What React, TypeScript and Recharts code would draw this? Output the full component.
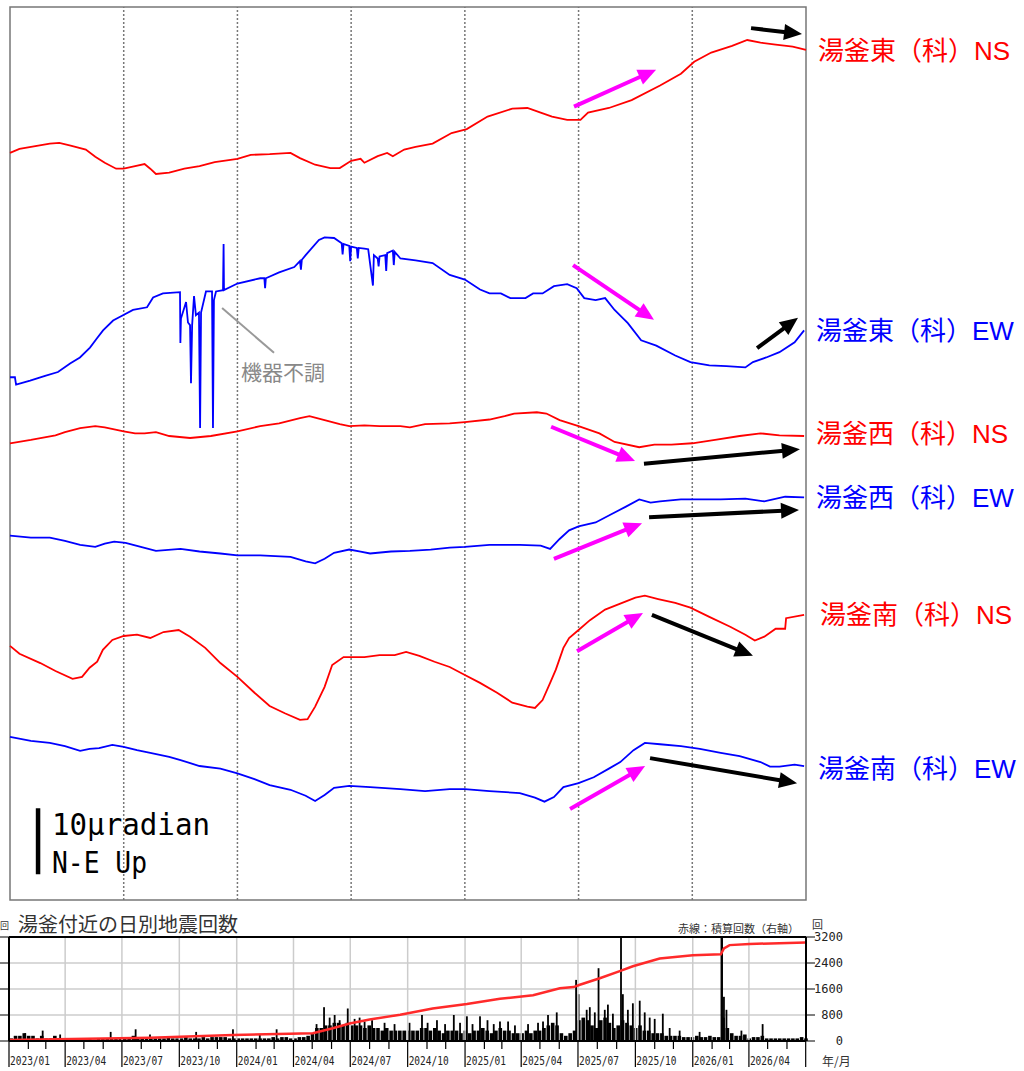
import React from 'react';
import {
  LineChart, Line, XAxis, YAxis, ReferenceLine, ReferenceArea,
  ComposedChart, Bar, CartesianGrid,
} from 'recharts';

// Tilt records: [months since 2023/01, tilt change in µradian since start]
const eastNS = [
  [0, 0], [0.5, 0.6], [2.1, 1.4], [2.6, 1.5], [3.2, 1.1], [4.0, 0.5], [4.5, -0.6], [5.0, -1.5],
  [5.6, -2.4], [6.0, -2.4], [6.6, -2.0], [7.1, -1.7], [7.4, -2.4], [7.7, -3.2], [8.4, -3.0],
  [9.2, -2.4], [10.0, -2.0], [10.8, -1.4], [12.0, -0.9], [12.7, -0.3], [13.7, -0.2], [14.8, 0],
  [15.3, -0.8], [16.1, -1.8], [16.9, -2.3], [17.4, -2.3], [18.0, -1.2], [18.5, -0.9], [18.7, -1.5],
  [19.4, -0.5], [19.9, 0], [20.2, -0.5], [20.8, 0.5], [21.4, 0.9], [22.3, 1.4], [23.3, 3.0],
  [24.1, 3.6], [25.2, 5.5], [26.5, 6.7], [27.3, 6.8], [28.0, 6.1], [28.6, 5.5], [29.4, 5.0],
  [30.1, 5.0], [30.5, 6.1], [31.6, 6.8], [32.8, 8.0], [34.3, 10.2], [35.4, 12.0], [36.1, 13.8],
  [37.0, 15.2], [38.1, 16.2], [38.9, 17.1], [39.6, 16.7], [40.4, 16.4], [41.3, 16.1], [42.0, 15.6],
];

const eastEW = [
  [0, 0], [0.26, 0], [0.32, -1.1], [1.06, -0.5], [1.85, 0.2], [2.53, 0.8], [3.17, 2.1], [3.69, 3.0],
  [4.22, 4.5], [4.59, 5.9], [4.91, 7.1], [5.44, 8.6], [5.96, 9.4], [6.49, 10.2], [7.23, 10.6],
  [7.55, 12.1], [8.07, 12.7], [8.97, 12.9], [8.99, 5.2], [9.02, 8.9], [9.29, 11.4], [9.39, 8.3],
  [9.5, 7.9], [9.55, -0.9], [9.61, 7.9], [9.71, 12.3], [9.81, 9.4], [9.97, 9.8], [10.03, -7.7],
  [10.08, 9.8], [10.34, 13.0], [10.66, 13.0], [10.71, -7.7], [10.76, 11.7], [10.87, 13.0],
  [11.24, 13.2], [11.27, 20.2], [11.29, 13.2], [12.0, 14.2], [13.2, 15.0], [13.42, 15.0],
  [13.46, 13.5], [13.5, 15.0], [14.2, 15.9], [15.0, 16.7], [15.3, 17.6], [15.35, 16.3], [15.4, 17.8],
  [15.6, 18.5], [16.3, 20.8], [16.6, 21.2], [17.1, 21.1], [17.5, 20.3], [17.55, 18.6], [17.6, 20.2],
  [17.9, 19.9], [17.95, 17.6], [18.0, 19.8], [18.3, 19.6], [18.35, 18.0], [18.4, 19.6], [18.7, 19.5],
  [18.9, 19.4], [19.15, 13.9], [19.2, 18.5], [19.4, 18.0], [19.45, 16.8], [19.5, 18.3], [19.8, 18.5],
  [19.85, 16.1], [19.9, 18.8], [20.2, 19.2], [20.25, 17.0], [20.3, 19.0], [20.6, 18.0], [21.4, 17.7],
  [22.3, 17.3], [23.2, 15.5], [24.0, 14.8], [24.8, 13.3], [25.3, 12.7], [25.9, 12.7], [26.4, 12.0],
  [27.2, 12.0], [27.6, 12.7], [28.1, 12.7], [28.7, 13.8], [29.4, 14.1], [29.9, 13.5], [30.3, 12.0],
  [30.9, 11.7], [31.4, 12.0], [31.9, 10.2], [32.6, 8.2], [33.3, 5.6], [34.1, 4.8], [35.1, 3.3],
  [35.9, 2.3], [36.9, 1.8], [37.8, 1.7], [38.8, 1.5], [39.2, 2.3], [39.9, 3.0], [40.6, 3.8],
  [41.4, 5.3], [41.9, 7.1],
];

const westNS = [
  [0, 0], [1.1, 0.5], [2.4, 1.2], [2.9, 1.7], [3.7, 2.3], [4.5, 2.6], [5.0, 2.4], [6.0, 1.8],
  [6.6, 1.5], [7.1, 1.5], [7.7, 1.7], [8.4, 1.1], [9.5, 0.8], [10.6, 1.1], [12.0, 1.8], [13.2, 2.6],
  [14.2, 3.0], [15.3, 3.8], [15.8, 4.1], [16.6, 3.5], [17.4, 2.9], [17.9, 2.6], [18.7, 2.7],
  [19.5, 2.6], [20.6, 2.6], [21.1, 2.4], [21.9, 2.9], [23.2, 3.0], [24.0, 3.2], [25.3, 3.6],
  [26.1, 4.1], [26.6, 4.5], [27.8, 4.7], [28.3, 4.5], [29.0, 3.5], [30.0, 2.6], [31.1, 1.5],
  [31.9, 0.2], [33.2, -0.6], [34.0, -0.2], [34.9, -0.2], [36.0, 0], [37.2, 0.5], [38.5, 1.1],
  [39.6, 1.5], [40.6, 1.2], [41.9, 1.1],
];

const westEW = [
  [0, 0], [1.1, -0.3], [2.1, -0.3], [2.9, -0.8], [3.7, -1.4], [4.5, -1.7], [5.0, -1.2], [5.5, -0.9],
  [6.1, -1.1], [6.9, -1.7], [7.7, -2.3], [9.0, -2.0], [10.0, -2.4], [11.1, -2.7], [12.0, -3.0],
  [13.2, -3.0], [14.8, -3.2], [15.6, -3.9], [16.1, -4.2], [16.6, -3.5], [17.1, -2.6], [17.9, -2.1],
  [18.5, -2.4], [19.0, -2.7], [20.1, -2.4], [21.1, -2.3], [22.2, -2.1], [23.2, -1.8], [24.0, -1.7],
  [25.3, -1.4], [26.4, -1.4], [26.9, -1.4], [28.0, -1.5], [28.5, -2.0], [29.0, -0.5], [29.5, 0.8],
  [30.0, 1.4], [30.9, 2.0], [31.7, 3.2], [32.5, 4.4], [33.2, 5.5], [33.8, 5.0], [34.3, 5.2],
  [35.4, 5.5], [36.4, 5.5], [37.5, 5.5], [38.8, 5.6], [39.8, 5.2], [40.9, 5.9], [41.9, 5.8],
];

const southNS = [
  [0, 0], [0.5, -1.2], [1.6, -2.6], [2.4, -3.8], [3.3, -5.0], [3.8, -4.7], [4.2, -3.3], [4.6, -2.4],
  [4.9, -0.6], [5.4, 0.9], [6.0, 1.5], [6.7, 1.7], [7.4, 1.2], [8.1, 2.1], [8.9, 2.4], [9.5, 1.4],
  [10.3, -0.3], [11.1, -2.6], [12.0, -4.7], [12.9, -7.1], [13.7, -9.1], [14.5, -10.2], [15.3, -11.2],
  [15.7, -11.1], [16.1, -9.2], [16.6, -6.2], [17.0, -2.9], [17.6, -1.7], [18.0, -1.7], [18.7, -1.7],
  [19.5, -1.4], [20.3, -1.4], [20.9, -0.9], [21.6, -1.5], [22.4, -2.4], [23.2, -3.2], [24.0, -4.4],
  [24.8, -5.6], [25.7, -7.1], [26.5, -8.6], [27.3, -9.2], [27.7, -9.4], [28.1, -8.2], [28.5, -5.6],
  [28.8, -3.6], [29.2, -0.3], [29.5, 1.2], [30.0, 2.4], [30.6, 3.9], [31.4, 5.5], [32.2, 6.4],
  [33.0, 7.3], [33.5, 7.6], [34.2, 7.1], [35.1, 6.5], [35.9, 5.8], [36.9, 4.4], [38.0, 2.9],
  [38.8, 1.7], [39.3, 0.8], [39.8, 1.4], [40.4, 2.6], [40.9, 2.6], [40.95, 4.2], [41.9, 4.7],
];

const southEW = [
  [0, 0], [1.1, -0.6], [2.1, -0.9], [2.9, -1.4], [3.7, -2.1], [4.2, -1.8], [4.7, -1.7], [5.4, -1.2],
  [6.0, -1.5], [6.7, -2.0], [7.4, -2.4], [8.4, -3.0], [9.0, -3.5], [10.0, -4.4], [11.1, -4.8],
  [12.0, -5.5], [12.9, -6.4], [13.7, -7.3], [14.8, -8.0], [15.6, -8.9], [16.1, -9.7], [16.6, -8.8],
  [17.1, -7.7], [17.9, -7.4], [19.0, -7.6], [20.6, -7.9], [21.9, -8.2], [23.2, -7.9], [24.0, -7.9],
  [25.3, -8.2], [26.9, -8.5], [27.7, -9.2], [28.2, -9.8], [28.7, -9.1], [29.2, -7.6], [30.0, -7.0],
  [30.8, -6.1], [31.6, -4.8], [32.2, -3.8], [32.9, -2.0], [33.5, -0.9], [34.3, -1.1], [35.4, -1.4],
  [36.4, -1.8], [37.5, -2.4], [38.5, -2.9], [39.6, -3.8], [40.1, -4.5], [40.6, -4.5], [41.4, -4.2],
  [41.9, -4.4],
];

// Daily earthquakes near Yugama: typical daily level per week (from 2023/01/01)
const weeklyCounts = [
  1, 2, 2, 3, 2, 2, 1, 2, 1, 1, 2, 1, 1, 1, 1, 1, 1, 1, 1, 0.5, 1, 1, 1, 1, 1, 1,
  1, 1, 2, 1, 1, 1, 1, 1, 1, 1, 1.5, 1, 1, 1, 1.5, 1, 1, 1, 1.5, 1, 1.5, 1.5, 1.5, 1.5,
  1, 1, 1, 1, 1, 1, 1, 1, 1, 1, 1.5, 1, 1.5, 1.5, 1, 1, 1.5, 1.5, 2, 3,
  5, 5, 6, 6, 7, 7, 6, 7, 6, 6, 6, 5, 6, 5, 5, 4, 5, 4, 4, 4,
  4, 4, 4, 4, 5, 5, 4, 5, 4, 3, 4, 4, 4, 3, 4, 3, 4, 4, 5, 4,
  3, 4, 5, 4, 4, 3, 3, 3, 4, 3, 4, 4, 5, 6, 7, 6, 3, 2, 3, 4,
  8, 9, 8, 6, 5, 8, 9, 7, 5, 6, 8, 7, 6, 5, 6, 4, 4, 3, 3, 3,
  2, 2, 2, 2, 1.5, 1.5, 1.5, 2, 1.5, 1.5, 2, 1.5, 1.5, 9, 5, 3, 2, 2, 2.5, 1,
  1.5, 1.5, 2, 1, 1, 1, 1, 1, 1, 1, 1, 1.5, 1,
];

// Single busy days: [day since 2023/01/01, count]
const busyDays = [
  [26, 3], [54, 4], [82, 2.5], [163, 3.5], [203, 4.5], [226, 2.5], [300, 3.5], [359, 4.5],
  [402, 2.5], [429, 4.5], [493, 6.5], [505, 13], [514, 9], [522, 10], [530, 8], [543, 12.5],
  [554, 8.5], [562, 9], [570, 7.5], [582, 8], [602, 7], [618, 6.5], [642, 7], [662, 10],
  [671, 7], [686, 8], [699, 6.5], [713, 10], [723, 7], [734, 9.5], [743, 6.5], [755, 9.5],
  [767, 8], [777, 6.5], [787, 7.5], [800, 7.5], [811, 6], [832, 6.5], [848, 7], [856, 7.5],
  [864, 10], [878, 11], [909, 23.5], [913, 18], [926, 12], [931, 13], [939, 11], [945, 28],
  [955, 12], [960, 14], [968, 10.5], [981, 45], [984, 18], [992, 12], [1000, 14.5], [1011, 15.5],
  [1019, 11], [1027, 9], [1035, 8.5], [1048, 10.5], [1059, 5], [1075, 4], [1107, 3.5],
  [1142, 70], [1143, 60], [1146, 17], [1150, 12], [1174, 4], [1208, 6.5],
];

// Cumulative count (right axis): [day since 2023/01/01, total]
const cumulative = [
  [0, 30], [226, 100], [359, 185], [487, 240], [519, 390], [546, 540], [578, 660], [627, 810],
  [679, 1000], [734, 1140], [787, 1300], [840, 1410], [883, 1620], [905, 1660], [915, 1730],
  [947, 1930], [979, 2150], [1000, 2300], [1043, 2540], [1096, 2640], [1141, 2670], [1146, 2850],
  [1155, 2950], [1187, 2985], [1277, 3030],
];

const RED = '#ff0000';
const BLUE = '#0000ff';
const MAGENTA = '#ff00ff';

const TRACES = [
  { name: '湯釜東（科）', comp: 'NS', data: eastNS, offset: 113.2, color: RED, lx: 818, ly: 60 },
  { name: '湯釜東（科）', comp: 'EW', data: eastEW, offset: 79.2, color: BLUE, lx: 816, ly: 340 },
  { name: '湯釜西（科）', comp: 'NS', data: westNS, offset: 69.2, color: RED, lx: 816, ly: 443 },
  { name: '湯釜西（科）', comp: 'EW', data: westEW, offset: 55.2, color: BLUE, lx: 816, ly: 507 },
  { name: '湯釜南（科）', comp: 'NS', data: southNS, offset: 38.5, color: RED, lx: 820, ly: 624 },
  { name: '湯釜南（科）', comp: 'EW', data: southEW, offset: 24.7, color: BLUE, lx: 818, ly: 778 },
];

// annotation arrows in chart units: [m1, v1, m2, v2, colour]
const ARROWS: [number, number, number, number, string][] = [
  [39.1, 132.1, 41.79, 131.2, '#000'],
  [29.76, 120.2, 34.09, 125.8, MAGENTA],
  [29.71, 96.2, 33.98, 87.9, MAGENTA],
  [39.42, 83.6, 41.58, 88.2, '#000'],
  [28.55, 71.7, 32.98, 66.5, MAGENTA],
  [33.45, 66.1, 41.68, 68.3, '#000'],
  [28.7, 51.7, 33.35, 57.1, MAGENTA],
  [33.72, 58.0, 41.63, 59.1, '#000'],
  [29.92, 37.7, 33.4, 43.5, MAGENTA],
  [33.87, 43.2, 39.2, 37.0, '#000'],
  [29.55, 13.8, 33.51, 20.3, MAGENTA],
  [33.77, 21.5, 41.53, 17.7, '#000'],
];

const Arrow = (p: any) => {
  const { x1, y1, x2, y2, stroke } = p;
  const dx = x2 - x1;
  const dy = y2 - y1;
  const len = Math.sqrt(dx * dx + dy * dy) || 1;
  const ux = dx / len;
  const uy = dy / len;
  const hl = 18;
  const hw = 8;
  const bx = x2 - ux * hl;
  const by = y2 - uy * hl;
  return (
    <g>
      <line x1={x1} y1={y1} x2={x2 - ux * (hl - 2)} y2={y2 - uy * (hl - 2)} stroke={stroke} strokeWidth={4} />
      <polygon
        points={`${x2},${y2} ${bx - uy * hw},${by + ux * hw} ${bx + uy * hw},${by - ux * hw}`}
        fill={stroke}
      />
    </g>
  );
};

const START = Date.UTC(2023, 0, 1);
const monthTicks = Array.from({ length: 43 }, (_, i) => Math.round((Date.UTC(2023, i, 1) - START) / 86400000));
const quarterDays = monthTicks.filter((_, i) => i % 3 === 0 && i > 0 && i < 42);

const barTable = [
  ...weeklyCounts.map((c, w) => ({ day: w * 7 + 3.5, count: c, kind: 'week' })),
  ...busyDays.map(([d, c]) => ({ day: d, count: c, kind: 'day' })),
];
const cumTable = cumulative.map(([day, total]) => ({ day, total }));

// bar widths are fixed here: one week ~4.4px, one day ~0.6px (drawn a bit wider)
const BarShape = (p: any) => {
  const { x, y, width, height, payload } = p;
  if (!height || height <= 0) return <g />;
  const cx = x + width / 2;
  const w = payload && payload.kind === 'day' ? 1.8 : 3.6;
  return <rect x={cx - w / 2} y={y} width={w} height={height} fill="#000" />;
};

const MonthTick = (p: any) => {
  const { x, y, payload } = p;
  const i = monthTicks.indexOf(payload.value);
  const major = i % 3 === 0;
  const label = `${2023 + Math.floor(i / 12)}/${String((i % 12) + 1).padStart(2, '0')}`;
  return (
    <g>
      <line x1={x} y1={y} x2={x} y2={y + (major ? 26 : 8)} stroke="#000" strokeWidth={1.2} />
      {major && i < 42 && (
        <text x={x + 1} y={y + 24} fontSize={12} fontFamily="DejaVu Sans Mono" fill="#222"
          textLength={40} lengthAdjust="spacingAndGlyphs">{label}</text>
      )}
    </g>
  );
};

const CumTick = (p: any) => {
  const { x, y, payload } = p;
  return (
    <text x={x + 26} y={y + 4} textAnchor="end" fontSize={12} fontFamily="DejaVu Sans Mono" fill="#222">
      {payload.value}
    </text>
  );
};

const App: React.FC = () => {
  return (
    <div style={{ position: 'absolute', left: 0, top: 0, width: 1024, height: 1071, background: '#fff', overflow: 'hidden' }}>
      {/* tilt records */}
      <div style={{ position: 'absolute', left: 0, top: 0 }}>
        <LineChart width={1024} height={905} margin={{ top: 7, right: 218, bottom: 5, left: 10 }}>
          <XAxis dataKey="m" type="number" domain={[0, 42]} hide allowDuplicatedCategory={false} />
          <YAxis type="number" domain={[0, 135.3]} hide />
          <ReferenceArea x1={0} x2={42} y1={0} y2={135.3} fill="none" stroke="#777" strokeWidth={1.5} />
          {[6, 12, 18, 24, 30, 36].map((m) => (
            <ReferenceLine key={m} x={m} stroke="#777" strokeDasharray="2 2" strokeWidth={1.5} />
          ))}
          {TRACES.map((t) => (
            <Line
              key={t.name + t.comp}
              data={t.data.map(([m, v]) => ({ m, v: v + t.offset }))}
              dataKey="v"
              stroke={t.color}
              strokeWidth={1.8}
              dot={false}
              isAnimationActive={false}
            />
          ))}
          <ReferenceLine segment={[{ x: 11.19, y: 89.7 }, { x: 13.93, y: 82.9 }]} stroke="#999" strokeWidth={2} />
          <ReferenceLine segment={[{ x: 1.48, y: 3.9 }, { x: 1.48, y: 13.9 }]} stroke="#000" strokeWidth={4.5} />
          {ARROWS.map((a, i) => (
            <ReferenceLine
              key={i}
              segment={[{ x: a[0], y: a[1] }, { x: a[2], y: a[3] }]}
              stroke={a[4]}
              ifOverflow="visible"
              shape={(p: any) => <Arrow {...p} stroke={a[4]} />}
            />
          ))}
        </LineChart>
      </div>

      {/* daily earthquake counts */}
      <div style={{ position: 'absolute', left: 0, top: 900 }}>
        <ComposedChart width={1024} height={171} data={barTable} margin={{ top: 37, right: 178, bottom: 0, left: 0 }}>
          <CartesianGrid yAxisId="cnt" vertical={false} stroke="#ccc" strokeWidth={1.5} />
          <XAxis
            dataKey="day"
            type="number"
            domain={[0, 1277]}
            ticks={monthTicks}
            interval={0}
            height={30}
            tickSize={0}
            tickMargin={0}
            tickLine={false}
            axisLine={{ stroke: '#000', strokeWidth: 2 }}
            tick={<MonthTick />}
          />
          <YAxis
            yAxisId="cnt"
            orientation="left"
            width={9}
            type="number"
            domain={[0, 40]}
            ticks={[0, 10, 20, 30, 40]}
            allowDataOverflow
            tickSize={9}
            axisLine={{ stroke: '#000', strokeWidth: 2 }}
            tickLine={{ stroke: '#000' }}
            tick={() => <g />}
          />
          <YAxis
            yAxisId="cum"
            orientation="right"
            width={40}
            type="number"
            domain={[0, 3200]}
            ticks={[0, 800, 1600, 2400, 3200]}
            interval={0}
            tickSize={9}
            tickMargin={2}
            axisLine={{ stroke: '#000', strokeWidth: 2 }}
            tickLine={{ stroke: '#000' }}
            tick={<CumTick />}
          />
          {quarterDays.map((d) => (
            <ReferenceLine key={d} x={d} yAxisId="cnt" stroke="#ccc" strokeWidth={1.5} />
          ))}
          <Bar dataKey="count" yAxisId="cnt" barSize={3} fill="#000" shape={<BarShape />} isAnimationActive={false} />
          <Line
            data={cumTable}
            dataKey="total"
            yAxisId="cum"
            stroke="#ff2a2a"
            strokeWidth={2.5}
            dot={false}
            isAnimationActive={false}
          />
          <ReferenceLine y={40} yAxisId="cnt" stroke="#000" strokeWidth={2} />
        </ComposedChart>
      </div>

      {/* texts */}
      <svg width={1024} height={1071} style={{ position: 'absolute', left: 0, top: 0, pointerEvents: 'none' }}>
        {TRACES.map((t) => (
          <text key={t.name + t.comp} x={t.lx} y={t.ly} fontSize={26} fill={t.color}>
            <tspan fontFamily="Noto Sans CJK JP">{t.name}</tspan>
            <tspan fontFamily="Liberation Sans">{t.comp}</tspan>
          </text>
        ))}
        <text x={241} y={380} fontSize={21} fill="#888" fontFamily="Noto Sans CJK JP">機器不調</text>
        <text x={52} y={835} fontSize={30} fill="#000" fontFamily="DejaVu Sans Mono"
          textLength={158} lengthAdjust="spacingAndGlyphs">10μradian</text>
        <text x={52} y={873} fontSize={30} fill="#000" fontFamily="DejaVu Sans Mono"
          textLength={95} lengthAdjust="spacingAndGlyphs">N-E Up</text>
        <text x={18} y={932} fontSize={20} fill="#333" fontFamily="Noto Sans CJK JP">湯釜付近の日別地震回数</text>
        <text x={0} y={929} fontSize={9} fill="#333" fontFamily="Noto Sans CJK JP">回</text>
        <text x={678} y={933} fontSize={11} fill="#333" fontFamily="Noto Sans CJK JP">赤線：積算回数（右軸）</text>
        <text x={812} y={929} fontSize={11} fill="#333" fontFamily="Noto Sans CJK JP">回</text>
        <text x={822} y={1066} fontSize={12} fill="#333" fontFamily="Noto Sans CJK JP">年/月</text>
      </svg>
    </div>
  );
};

export default App;
